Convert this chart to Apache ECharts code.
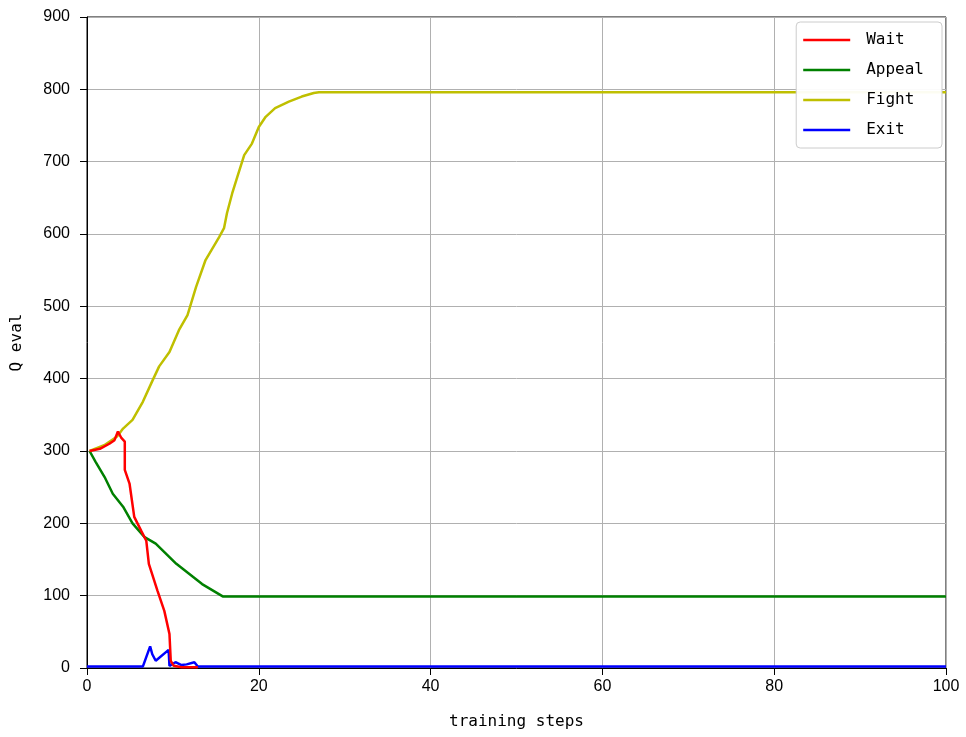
<!DOCTYPE html>
<html>
<head>
<meta charset="utf-8">
<script src="https://cdn.jsdelivr.net/npm/echarts@6/dist/echarts.min.js"></script>
<style>
  html, body { margin: 0; padding: 0; background: #fff; }
  #chart { width: 966px; height: 737px; }
</style>
</head>
<body>
<div id="chart"></div>
<script>
// values
const waitSteps  = [0.3, 1.5, 2.6, 3.2, 3.6, 4.0, 4.4, 4.4, 4.95, 5.5, 6.3, 6.9, 7.2, 8.2, 9.0, 9.6, 9.75, 10.1, 11.0, 12.0, 12.9];
const waitValues = [300, 303, 310, 315, 327, 318, 313, 274, 255, 209, 190, 176, 144, 107, 79, 47, 10, 3, 1, 1, 1];

const appealSteps  = [0.3, 1.0, 2.05, 3.0, 4.2, 5.3, 6.7, 8.0, 10.4, 13.4, 15.8, 20, 40, 60, 80, 100];
const appealValues = [300, 285, 264, 241, 223, 200, 181, 172, 144, 116, 99, 99, 99, 99, 99, 99];

const fightSteps  = [0.3, 2.0, 3.5, 4.2, 5.3, 6.5, 7.65, 8.4, 9.6, 10.7, 11.7, 12.7, 13.8, 15.4, 15.95, 16.3, 16.9, 17.5, 18.3, 19.2, 20.0, 20.8, 21.9, 23.5, 25.0, 26.4, 27.0, 40, 60, 80, 100];
const fightValues = [300, 308, 320, 331, 343, 368, 398, 417, 437, 467, 488, 527, 564, 596, 608, 629, 656, 679, 709, 725, 748, 762, 774, 783, 790, 795, 796, 796, 796, 796, 796];

const exitSteps  = [0, 6.5, 7.35, 7.6, 8.0, 9.5, 9.6, 10.3, 11.0, 11.6, 12.5, 12.9, 20, 40, 60, 80, 100];
const exitValues = [2, 2, 30, 19, 10, 25, 3, 8, 4, 5, 8, 2, 2, 2, 2, 2, 2];

const xTicks = [0, 20, 40, 60, 80, 100];
const yTicks = [0, 100, 200, 300, 400, 500, 600, 700, 800, 900];

const pair = (xs, ys) => xs.map((x, i) => [x, ys[i]]);

const mono = 'DejaVu Sans Mono';
const chart = echarts.init(document.getElementById('chart'));

function lineSeries(name, color, xs, ys) {
  return {
    name: name,
    type: 'line',
    data: pair(xs, ys),
    showSymbol: false,
    symbol: 'none',
    lineStyle: { color: color, width: 2.5 },
    itemStyle: { color: color },
    animation: false
  };
}

chart.setOption({
  backgroundColor: '#fff',
  animation: false,
  grid: {
    left: 87, right: 20, top: 17, bottom: 69,
    outerBoundsMode: 'none',
    show: true, borderColor: '#000', borderWidth: 1
  },
  legend: {
    orient: 'vertical',
    right: 24, top: 22,
    icon: 'rect',
    itemWidth: 47, itemHeight: 2.5,
    itemGap: 14,
    padding: [10, 18, 10, 7],
    backgroundColor: 'rgba(255,255,255,0.95)',
    borderColor: '#cccccc', borderWidth: 1, borderRadius: 4,
    textStyle: { fontFamily: mono, fontSize: 16, color: '#000', padding: [0, 0, 0, 11] },
    data: ['Wait', 'Appeal', 'Fight', 'Exit']
  },
  xAxis: {
    type: 'value',
    min: xTicks[0], max: xTicks[xTicks.length - 1], interval: 20,
    name: 'training steps',
    nameLocation: 'middle', nameGap: 46,
    nameTextStyle: { fontFamily: mono, fontSize: 16, color: '#000' },
    axisLine: { onZero: false, lineStyle: { color: '#000', width: 1 } },
    axisTick: { show: true, length: 7, inside: false, lineStyle: { color: '#000' } },
    axisLabel: { fontFamily: 'Liberation Sans', fontSize: 16, color: '#000', margin: 11 },
    splitLine: { show: true, lineStyle: { color: '#b0b0b0', width: 1 } }
  },
  yAxis: {
    type: 'value',
    min: yTicks[0], max: yTicks[yTicks.length - 1], interval: 100,
    name: 'Q eval',
    nameLocation: 'middle', nameGap: 62, nameRotate: 90,
    nameTextStyle: { fontFamily: mono, fontSize: 16, color: '#000' },
    axisLine: { show: true, onZero: false, lineStyle: { color: '#000', width: 1 } },
    axisTick: { show: true, length: 7, inside: false, lineStyle: { color: '#000' } },
    axisLabel: { fontFamily: 'Liberation Sans', fontSize: 16, color: '#000', margin: 17 },
    splitLine: { show: true, lineStyle: { color: '#b0b0b0', width: 1 } }
  },
  series: [
    lineSeries('Exit', '#0000ff', exitSteps, exitValues),
    lineSeries('Appeal', '#008000', appealSteps, appealValues),
    lineSeries('Fight', '#bfbf00', fightSteps, fightValues),
    lineSeries('Wait', '#ff0000', waitSteps, waitValues)
  ]
});
</script>
</body>
</html>
